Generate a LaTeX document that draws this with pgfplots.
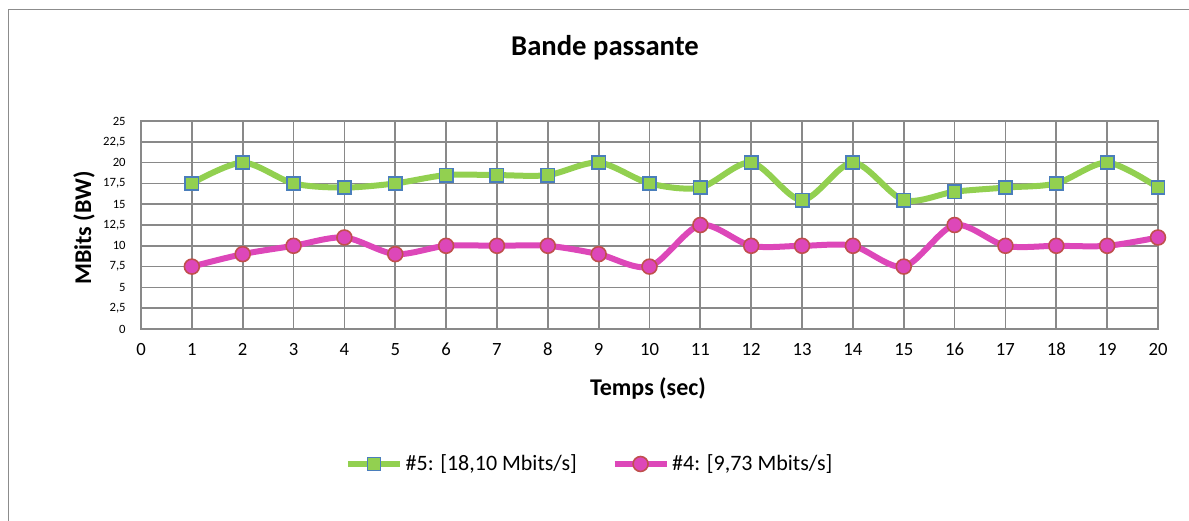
\documentclass[border=0pt]{standalone}
\usepackage{fontspec}
\setmainfont{Carlito}
\usepackage{pgfplots}
\pgfplotsset{compat=1.18}
\definecolor{grn}{HTML}{92D050}
\definecolor{grnedge}{HTML}{4A7EBB}
\definecolor{pnk}{HTML}{DD47B9}
\definecolor{pnkedge}{HTML}{C0504D}
\definecolor{gridc}{HTML}{898989}
\definecolor{framec}{HTML}{8C8C8C}
\pgfplotstableread{
x g p
1 17.5 7.5
2 20 9
3 17.5 10
4 17 11
5 17.5 9
6 18.5 10
7 18.5 10
8 18.5 10
9 20 9
10 17.5 7.5
11 17 12.5
12 20 10
13 15.5 10
14 20 10
15 15.5 7.5
16 16.5 12.5
17 17 10
18 17.5 10
19 20 10
20 17 11
}\data
\begin{document}
\begin{tikzpicture}
\begin{scope}[x=0.75pt,y=-0.75pt]
\path[use as bounding box] (0,0) rectangle (1189,521);
\draw[framec, line width=1.3pt] (8.5,530) -- (8.5,9.5) -- (1195,9.5);
\node[font=\fontsize{21.5}{24}\selectfont\bfseries] at (605,48) {Bande passante};
\node[font=\fontsize{18}{20}\selectfont\bfseries, rotate=90] at (84,228) {MBits (BW)};
\node[font=\fontsize{18}{20}\selectfont\bfseries] at (648,388) {Temps (sec)};
\end{scope}
\begin{axis}[
  at={(105.75pt,-246.75pt)}, anchor=south west,
  scale only axis, width=762.75pt, height=156pt,
  xmin=0, xmax=20, ymin=0, ymax=25,
  xtick={0,1,...,20},
  ytick={0,2.5,5,7.5,10,12.5,15,17.5,20,22.5,25},
  grid=major,
  major grid style={gridc, line width=1.3pt},
  axis line style={gridc, line width=1.3pt},
  major tick length=0pt,
  /pgf/number format/assume math mode=true,
  /pgf/number format/use comma,
  /pgf/number format/fixed,
  yticklabel style={font=\fontsize{9.5}{11}\selectfont, anchor=east, xshift=-8pt},
  xticklabel style={font=\fontsize{14}{16}\selectfont, yshift=-7pt},
  legend columns=2,
  legend style={at={(0.4415,-0.649)}, anchor=center, draw=none, fill=none,
    font=\fontsize{16.5}{18}\selectfont, /tikz/every even column/.append style={column sep=24pt}},
  legend cell align=left,
  legend image code/.code={\draw[mark repeat=2,mark phase=2] plot coordinates {(0pt,0pt) (19.5pt,0pt) (39pt,0pt)};},
]
\addplot[grn, line width=4.5pt, smooth, tension=0.5, mark=square*, mark size=5pt,
  mark options={fill=grn, draw=grnedge, line width=1.2pt}] table[x=x,y=g] {\data};
\addlegendentry{\#5: [18,10 Mbits/s]}
\addplot[pnk, line width=4.5pt, smooth, tension=0.5, mark=*, mark size=5.6pt,
  mark options={fill=pnk, draw=pnkedge, line width=1.2pt}] table[x=x,y=p] {\data};
\addlegendentry{\#4: [9,73 Mbits/s]}
\end{axis}
\end{tikzpicture}
\end{document}
